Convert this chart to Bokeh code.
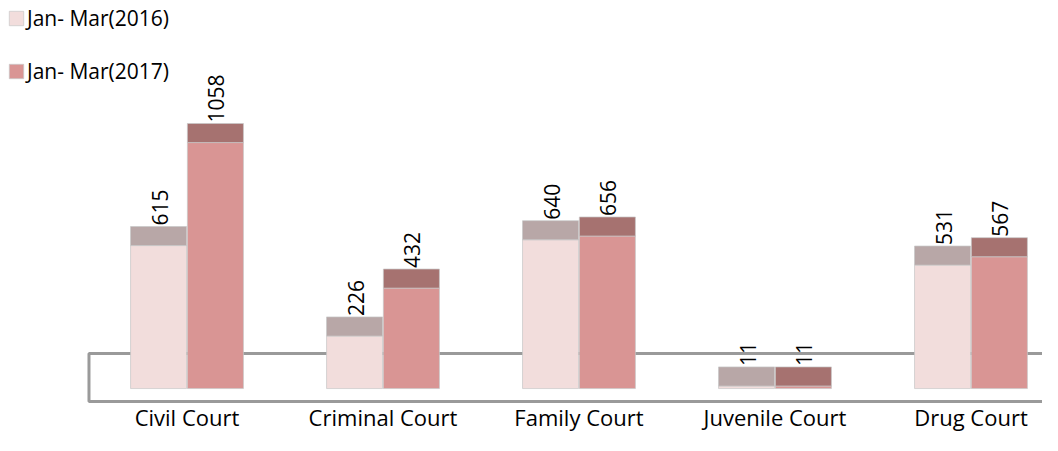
from bokeh.plotting import figure
from bokeh.models import (ColumnDataSource, Range1d, Legend, LegendItem)
from bokeh.core.properties import value
from bokeh.embed import file_html
from bokeh.resources import INLINE
import math

# ---- data ----
categories = ["Civil Court", "Criminal Court", "Family Court", "Juvenile Court", "Drug Court"]
series_names = ["Jan- Mar(2016)", "Jan- Mar(2017)"]
values_2016 = [615, 226, 640, 11, 531]
values_2017 = [1058, 432, 656, 11, 567]

# ---- style ----
FONT = "Open Sans"
front_colors = ["#F2DDDC", "#D99594"]
cap_colors = ["#B8A7A7", "#A67270"]
CAP = 82            # depth of the 3D top cap (in value units)
BAR_W = 0.286
OFFS = [-0.145, 0.145]
FLOOR_TOP, FLOOR_BOTTOM = 69, -138
LABEL_Y = -204      # position of the category labels (value units, below the floor)

p = figure(width=1042, height=435, output_backend="svg", toolbar_location=None,
           x_range=Range1d(-0.9515, 4.365), y_range=Range1d(-283.9, 1587.1),
           min_border_left=0, min_border_right=0, min_border_top=0, min_border_bottom=0)
p.outline_line_color = None
p.xgrid.visible = False
p.ygrid.visible = False
p.xaxis.visible = False
p.yaxis.visible = False
p.background_fill_color = "white"

# floor (3D base)
p.line(x=[5.0, -0.5, -0.5, 5.0], y=[FLOOR_TOP, FLOOR_TOP, FLOOR_BOTTOM, FLOOR_BOTTOM],
       line_color="#9A9A9A", line_width=3)

idx = list(range(len(categories)))
legend_items = []
for s, vals in enumerate([values_2016, values_2017]):
    xs = [i + OFFS[s] for i in idx]
    src = ColumnDataSource(dict(
        left=[x - BAR_W / 2 for x in xs],
        right=[x + BAR_W / 2 for x in xs],
        bottom=[-CAP] * len(vals),
        mid=[v - CAP for v in vals],
        top=vals,
        x=xs,
        label=[str(v) for v in vals],
    ))
    r = p.quad(left="left", right="right", bottom="bottom", top="mid", source=src,
               fill_color=front_colors[s], line_color="#C8C8C8", line_alpha=0.7, line_width=1)
    p.quad(left="left", right="right", bottom="mid", top="top", source=src,
           fill_color=cap_colors[s], line_color="#C8C8C8", line_alpha=0.7, line_width=1)
    p.text(x="x", y="top", text="label", source=src, angle=math.pi / 2,
           text_align="left", text_baseline="middle", text_font=value(FONT),
           text_font_size="21px", text_color="#000000", x_offset=1, y_offset=-1)
    legend_items.append(LegendItem(label=series_names[s], renderers=[r]))

# category labels
cat_src = ColumnDataSource(dict(x=idx, y=[LABEL_Y] * len(idx), text=categories))
p.text(x="x", y="y", text="text", source=cat_src, text_align="center",
       text_baseline="alphabetic", text_font=value(FONT), text_font_size="22px",
       text_color="#000000")

legend = Legend(items=legend_items, location=(7, 350), orientation="vertical",
                padding=0, margin=0, spacing=25, glyph_width=18, glyph_height=18,
                label_height=22, label_standoff=2, label_text_font=FONT,
                label_text_font_size="21px", label_text_color="#000000",
                border_line_color=None, background_fill_alpha=0)
p.add_layout(legend)

open("out.html", "w").write(file_html(p, INLINE))
